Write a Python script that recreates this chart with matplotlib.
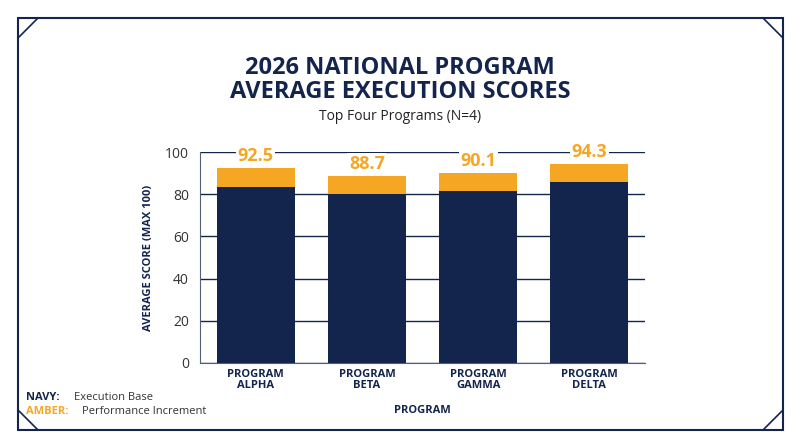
import matplotlib.pyplot as plt
from matplotlib.lines import Line2D
from matplotlib.patches import Rectangle

programs = ['PROGRAM\nALPHA', 'PROGRAM\nBETA', 'PROGRAM\nGAMMA', 'PROGRAM\nDELTA']
totals = [92.5, 88.7, 90.1, 94.3]
base = [83.5, 80.0, 81.3, 85.6]
increment = [t - b for t, b in zip(totals, base)]

NAVY = '#13244d'
AMBER = '#f5a623'
plt.rcParams['font.family'] = ['Open Sans', 'DejaVu Sans']

fig = plt.figure(figsize=(8, 4.47), dpi=100)
W, H = 800, 447

# frame with corner cuts
def px(x, y):
    return x / W, 1 - y / H

fig.patches.append(Rectangle(px(18, 430), 765 / W, 412 / H, transform=fig.transFigure,
                             fill=False, edgecolor=NAVY, lw=1.5))
for (x0, y0, x1, y1) in [(18, 38, 38, 18), (763, 18, 783, 38), (18, 410, 38, 430), (763, 430, 783, 410)]:
    a, b = px(x0, y0)
    c, d = px(x1, y1)
    fig.add_artist(Line2D([a, c], [b, d], color=NAVY, lw=1.2, transform=fig.transFigure))

ax = fig.add_axes([200 / W, 1 - 363 / H, 445 / W, 211 / H])
x = range(len(programs))
ax.bar(x, base, width=0.7, color=NAVY, zorder=3)
ax.bar(x, increment, bottom=base, width=0.7, color=AMBER, zorder=3)
for i, t in enumerate(totals):
    ax.text(i, t + 1.5, f'{t}', ha='center', va='bottom', color=AMBER,
            fontsize=13, fontweight='bold', zorder=4,
            bbox=dict(facecolor='white', edgecolor='none', pad=1))

ax.set_ylim(0, 100)
ax.set_xlim(-0.5, 3.5)
ax.set_yticks([0, 20, 40, 60, 80, 100])
ax.grid(axis='y', color=NAVY, lw=1, zorder=0)
for s in ['top', 'right']:
    ax.spines[s].set_visible(False)
ax.spines['left'].set_color('#555e75')
ax.spines['bottom'].set_color('#555e75')
ax.tick_params(axis='y', length=0, labelsize=10, colors='#333333', pad=8)
ax.tick_params(axis='x', length=0, pad=4)
ax.set_xticks(list(x))
ax.set_xticklabels(programs, fontsize=8, fontweight='bold', color=NAVY, linespacing=1.1)
ax.set_xlabel('PROGRAM', fontsize=8, fontweight='bold', color=NAVY, labelpad=10)
ax.set_ylabel('AVERAGE SCORE (MAX 100)', fontsize=8, fontweight='bold', color=NAVY, labelpad=8)

fig.text(0.5, 1 - 80 / H, '2026 NATIONAL PROGRAM\nAVERAGE EXECUTION SCORES', ha='center', va='center',
         fontsize=17, fontweight='bold', color=NAVY, linespacing=1.0)
fig.text(0.5, 1 - 117 / H, 'Top Four Programs (N=4)', ha='center', va='center', fontsize=10, color='#222222')

fig.text(26 / W, 1 - 398 / H, 'NAVY:', fontsize=8, fontweight='bold', color=NAVY, va='center')
fig.text(74 / W, 1 - 398 / H, 'Execution Base', fontsize=8, color='#333333', va='center')
fig.text(26 / W, 1 - 411 / H, 'AMBER:', fontsize=8, fontweight='bold', color=AMBER, va='center')
fig.text(82 / W, 1 - 411 / H, 'Performance Increment', fontsize=8, color='#333333', va='center')

fig.savefig('out.png', dpi=100, facecolor='white')
